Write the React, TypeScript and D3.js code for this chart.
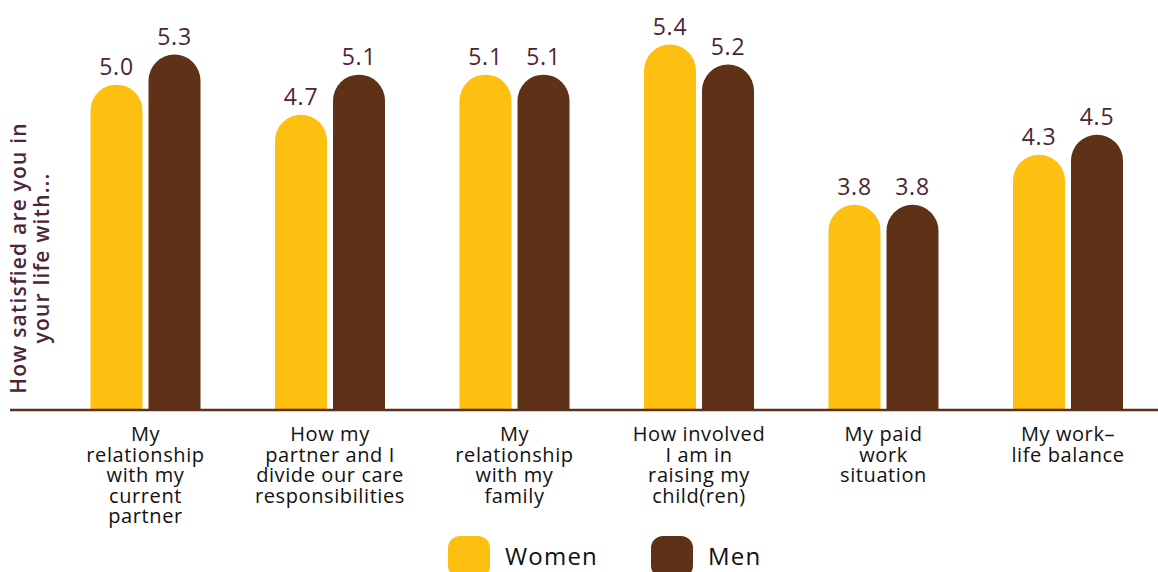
import React from "react";
import * as d3 from "d3";

const categories = [
  "My relationship with my current partner",
  "How my partner and I divide our care responsibilities",
  "My relationship with my family",
  "How involved I am in raising my child(ren)",
  "My paid work situation",
  "My work–life balance",
];
const categoryLines = [
  ["My", "relationship", "with my", "current", "partner"],
  ["How my", "partner and I", "divide our care", "responsibilities"],
  ["My", "relationship", "with my", "family"],
  ["How involved", "I am in", "raising my", "child(ren)"],
  ["My paid", "work", "situation"],
  ["My work–", "life balance"],
];
const series = ["Women", "Men"];
const women = [5.0, 4.7, 5.1, 5.4, 3.8, 4.3];
const men = [5.3, 5.1, 5.1, 5.2, 3.8, 4.5];
const yTitle = ["How satisfied are you in", "your life with..."];

const W = 1158;
const H = 572;
const FONT = "'Open Sans', 'DejaVu Sans', sans-serif";
const COLORS: Record<string, string> = { Women: "#FDC010", Men: "#5F3217" };
const LABEL_COLOR = "#4B2636";
const AXIS_COLOR = "#5E2F1B";

function roundTopPath(x: number, y: number, w: number, h: number) {
  const r = Math.min(w / 2, h);
  return `M${x},${y + h} L${x},${y + r} A${r},${r} 0 0 1 ${x + w},${y + r} L${x + w},${y + h} Z`;
}

export default function App() {
  const baseline = 410;
  const x0 = d3.scaleBand<string>().domain(categories).range([53.25, 1160.25]).padding(0);
  const x1 = d3.scaleBand<string>().domain(series).range([0, 110]).paddingInner(2 - 110 / 58).paddingOuter(0);
  const y = d3.scaleLinear().domain([1.75, 5.4]).range([baseline, 44.6]);
  const valuesBy: Record<string, number[]> = { Women: women, Men: men };

  return (
    <svg width={W} height={H} style={{ position: "absolute", left: 0, top: 0 }} fontFamily={FONT}>
      <rect width={W} height={H} fill="#fff" />
      {categories.map((c, i) => {
        const cx = (x0(c) as number) + x0.bandwidth() / 2;
        const gx = cx - 55;
        return (
          <g key={c}>
            {series.map((s) => {
              const v = valuesBy[s][i];
              const bx = gx + (x1(s) as number);
              const bw = x1.bandwidth();
              const top = y(v);
              return (
                <g key={s}>
                  <path d={roundTopPath(bx, top, bw, baseline - top)} fill={COLORS[s]} />
                  <text
                    x={bx + bw / 2}
                    y={top - 10}
                    textAnchor="middle"
                    fontSize={23}
                    letterSpacing={0.8}
                    fill={LABEL_COLOR}
                  >
                    {v.toFixed(1)}
                  </text>
                </g>
              );
            })}
            <text textAnchor="middle" fontSize={20} letterSpacing={0.6} fill="#111">
              {categoryLines[i].map((ln, k) => (
                <tspan key={k} x={cx} y={441 + k * 20.5}>
                  {ln}
                </tspan>
              ))}
            </text>
          </g>
        );
      })}
      <line x1={10} x2={W} y1={baseline} y2={baseline} stroke={AXIS_COLOR} strokeWidth={2.5} />
      {yTitle.map((t, k) => (
        <text
          key={k}
          transform={`translate(${26 + k * 23},258) rotate(-90)`}
          textAnchor="middle"
          fontSize={21}
          fontWeight={600}
          letterSpacing={1.2}
          fill={LABEL_COLOR}
        >
          {t}
        </text>
      ))}
      {series.map((s, k) => {
        const lx = k === 0 ? 448 : 651;
        return (
          <g key={s}>
            <rect x={lx} y={536} width={42} height={42} rx={12} fill={COLORS[s]} />
            <text x={lx + 57} y={565} fontSize={24} letterSpacing={1.2} fill="#111">
              {s}
            </text>
          </g>
        );
      })}
    </svg>
  );
}
